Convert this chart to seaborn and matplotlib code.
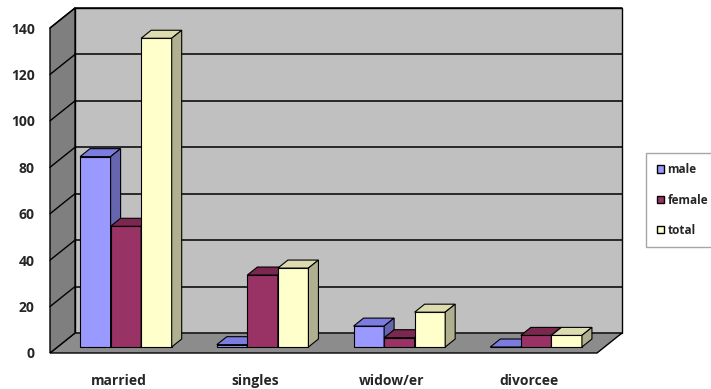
import matplotlib
matplotlib.use("Agg")
import matplotlib.pyplot as plt
from matplotlib.patches import Polygon, Patch
from matplotlib.lines import Line2D
from matplotlib.transforms import ScaledTranslation, IdentityTransform
import seaborn as sns
import pandas as pd

# Data
statuses = ["married", "singles", "widow/er", "divorcee"]
male = [82, 1, 9, 0]
female = [52, 31, 4, 5]
total = [133, 34, 15, 5]
series = ["male", "female", "total"]
yticks = list(range(0, 141, 20))

front_col = {"male": "#9999ff", "female": "#993366", "total": "#ffffcc"}
top_col = {"male": "#7c7ce0", "female": "#7a2850", "total": "#dcdcb0"}
side_col = {"male": "#6666b0", "female": "#6e2246", "total": "#b0b090"}

df = pd.DataFrame({
    "status": statuses * 3,
    "sex": ["male"] * 4 + ["female"] * 4 + ["total"] * 4,
    "count": male + female + total,
})

sns.set_style("white")
plt.rcParams["font.family"] = ["Open Sans", "DejaVu Sans"]

DPI = 100
fig = plt.figure(figsize=(7.11, 3.89), dpi=DPI)
ax = fig.add_axes([50 / 711, 36 / 389, 547 / 711, 325 / 389])

DEPTH = (25, 20)          # pixel shift from front plane to back wall
BAR_D0, BAR_D1 = 0.3, 0.7  # bar depth range

sns.barplot(data=df, x="status", y="count", hue="sex", hue_order=series,
            palette=front_col, saturation=1, width=0.67, edgecolor="black",
            linewidth=0.8, legend=False, ax=ax)
ax.set_xlim(-0.5, 3.5)
ax.set_ylim(0, 140)
ax.set_autoscale_on(False)
for s in ax.spines.values():
    s.set_visible(False)
ax.set_xlabel("")
ax.set_ylabel("")
ax.set_yticks(yticks)
ax.tick_params(axis="y", length=0, pad=11, labelsize=10)
ax.tick_params(axis="x", length=0, pad=15, labelsize=10)
for lab in ax.get_xticklabels() + ax.get_yticklabels():
    lab.set_fontweight("bold")

ident = IdentityTransform()


def to_px(x, y, d):
    px, py = ax.transData.transform((x, y))
    return (px + d * DEPTH[0], py + d * DEPTH[1])


def poly(pts, fc, z, lw=0.8):
    ax.add_patch(Polygon(pts, closed=True, facecolor=fc, edgecolor="black",
                         linewidth=lw, transform=ident, clip_on=False, zorder=z))


x0, x1, ytop = -0.5, 3.5, 140
# back wall, floor, left wall
poly([to_px(x0, 0, 1), to_px(x1, 0, 1), to_px(x1, ytop, 1), to_px(x0, ytop, 1)], "#c0c0c0", 0.5, 1.0)
poly([to_px(x0, 0, 0), to_px(x1, 0, 0), to_px(x1, 0, 1), to_px(x0, 0, 1)], "#8c8c8c", 0.6, 1.0)
poly([to_px(x0, 0, 0), to_px(x0, ytop, 0), to_px(x0, ytop, 1), to_px(x0, 0, 1)], "#7f7f7f", 0.6, 1.0)

for t in yticks[1:]:
    a, b = to_px(x0, t, 1), to_px(x1, t, 1)
    ax.add_line(Line2D([a[0], b[0]], [a[1], b[1]], color="black", lw=1.1,
                       transform=ident, clip_on=False, zorder=0.7))
    c = to_px(x0, t, 0)
    ax.add_line(Line2D([c[0], a[0]], [c[1], a[1]], color="black", lw=1.0,
                       transform=ident, clip_on=False, zorder=0.7))

# 3D faces for each bar
bars = []
for name, cont in zip(series, ax.containers):
    for bar in cont:
        bars.append((bar, name))
bars.sort(key=lambda b: b[0].get_x())

shift = ScaledTranslation(BAR_D0 * DEPTH[0] / DPI, BAR_D0 * DEPTH[1] / DPI, fig.dpi_scale_trans)
for k, (bar, name) in enumerate(bars):
    z = 3 + k * 0.01
    bx, w, h = bar.get_x(), bar.get_width(), bar.get_height()
    bar.set_transform(ax.transData + shift)
    bar.set_clip_on(False)
    bar.set_zorder(z)
    poly([to_px(bx, h, BAR_D0), to_px(bx + w, h, BAR_D0),
          to_px(bx + w, h, BAR_D1), to_px(bx, h, BAR_D1)], top_col[name], z)
    poly([to_px(bx + w, 0, BAR_D0), to_px(bx + w, h, BAR_D0),
          to_px(bx + w, h, BAR_D1), to_px(bx + w, 0, BAR_D1)], side_col[name], z)

handles = [Patch(facecolor=front_col[s], edgecolor="black", linewidth=1.0, label=s) for s in series]
fig.legend(handles=handles, loc="center left", bbox_to_anchor=(646 / 711, 1 - 200 / 389),
           frameon=True, fancybox=False, edgecolor="#909090", prop={"size": 8.5, "weight": "bold"},
           handlelength=0.6, handleheight=0.6, handletextpad=0.3, labelspacing=1.45,
           borderpad=0.9, borderaxespad=0)

fig.savefig("out.png", dpi=DPI)
